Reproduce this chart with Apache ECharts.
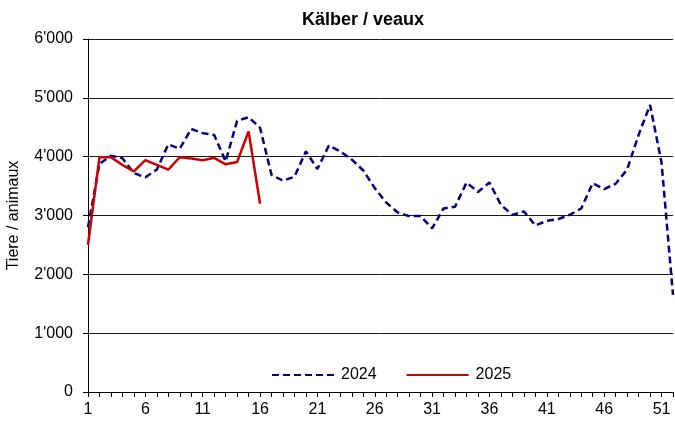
<!DOCTYPE html>
<html>
<head>
<meta charset="utf-8">
<script src="https://cdn.jsdelivr.net/npm/echarts@6/dist/echarts.min.js"></script>
<style>
  html, body { margin: 0; padding: 0; background: #fff; }
  #chart { width: 675px; height: 421px; }
</style>
</head>
<body>
<div id="chart"></div>
<script>
// Weeks 1..52
const weeks = Array.from({ length: 52 }, (_, i) => String(i + 1));

// Weekly counts of calves, 2024
const values2024 = [
  2800, 3880, 4015, 3975, 3720, 3650, 3780, 4210, 4135, 4470,
  4400, 4370, 3920, 4610, 4670, 4490, 3690, 3590, 3660, 4090,
  3790, 4190, 4090, 3950, 3765, 3465, 3220, 3050, 2990, 2990,
  2780, 3120, 3150, 3560, 3400, 3560, 3180, 3010, 3070, 2830,
  2910, 2940, 3010, 3120, 3550, 3450, 3540, 3780, 4370, 4880,
  3900, 1650
];

// Weekly counts of calves, 2025 (weeks reported so far)
const values2025 = [
  2500, 3990, 3990, 3860, 3750, 3940, 3860, 3780, 3990, 3970,
  3940, 3980, 3870, 3910, 4430, 3200
];

const yTicks = { min: 0, max: 6000, step: 1000 };

const FONT = 'Liberation Sans, Arial, sans-serif';

function swissThousands(v) {
  return String(v).replace(/\B(?=(\d{3})+(?!\d))/g, "'");
}

const chart = echarts.init(document.getElementById('chart'), null, { renderer: 'canvas' });

chart.setOption({
  animation: false,
  backgroundColor: '#ffffff',
  title: {
    text: 'Kälber / veaux',
    left: 358,
    textAlign: 'center',
    top: 6,
    textStyle: { fontFamily: FONT, fontWeight: 'bold', fontSize: 18, color: '#000' }
  },
  legend: {
    left: 266,
    top: 362,
    itemWidth: 62,
    itemHeight: 14,
    itemGap: 29,
    itemStyle: { opacity: 0 },
    textStyle: { fontFamily: FONT, fontSize: 16, color: '#000', padding: [0, 0, 0, 2] },
    data: ['2024', '2025']
  },
  grid: { left: 88, right: 2, top: 39, bottom: 29, containLabel: false, outerBoundsMode: 'none' },
  xAxis: {
    type: 'category',
    data: weeks,
    boundaryGap: false,
    axisLine: { lineStyle: { color: '#000', width: 1 } },
    axisTick: { show: true, interval: 0, length: 5, lineStyle: { color: '#000' } },
    axisLabel: { interval: 4, fontFamily: FONT, fontSize: 16, color: '#000', margin: 10 },
    splitLine: { show: false }
  },
  yAxis: {
    type: 'value',
    min: yTicks.min,
    max: yTicks.max,
    interval: yTicks.step,
    name: 'Tiere / animaux',
    nameLocation: 'middle',
    nameRotate: 90,
    nameGap: 66,
    nameTextStyle: { fontFamily: FONT, fontSize: 16, color: '#000' },
    axisLine: { show: true, lineStyle: { color: '#000', width: 1 } },
    axisTick: { show: true, length: 5, inside: false, lineStyle: { color: '#000' } },
    axisLabel: {
      fontFamily: FONT, fontSize: 16, color: '#000', margin: 15,
      formatter: swissThousands
    },
    splitLine: { show: true, lineStyle: { color: '#1a1a1a', width: 1 } }
  },
  series: [
    {
      name: '2024',
      type: 'line',
      data: values2024,
      symbol: 'none',
      smooth: false,
      lineStyle: { color: '#000080', width: 2.5, type: [7, 4] },
      itemStyle: { color: '#000080' },
      z: 2
    },
    {
      name: '2025',
      type: 'line',
      data: values2025,
      symbol: 'none',
      smooth: false,
      lineStyle: { color: '#cc0000', width: 2.5, type: 'solid' },
      itemStyle: { color: '#cc0000' },
      z: 3
    }
  ]
});
</script>
</body>
</html>
